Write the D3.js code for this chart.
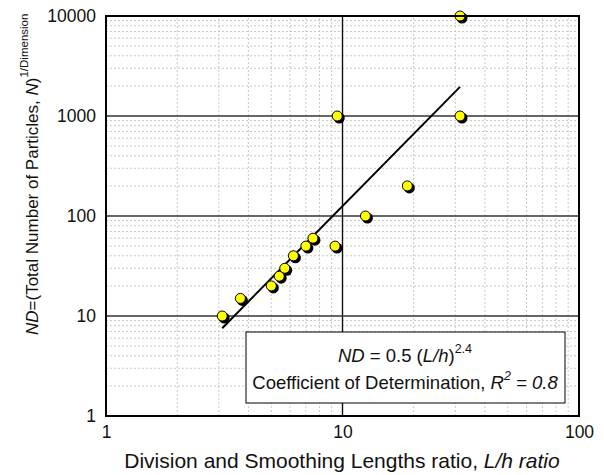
<!DOCTYPE html>
<html>
<head>
<meta charset="utf-8">
<script src="https://cdn.jsdelivr.net/npm/d3@7/dist/d3.min.js"></script>
<style>
  html, body { margin: 0; padding: 0; background: #fff; }
  svg { display: block; font-family: Arial, "Liberation Sans", sans-serif; }
</style>
</head>
<body>
<svg id="chart" width="604" height="475"></svg>
<script>
// Observed ratios L/h and corresponding ND values
const ratioLh = [3.1, 3.7, 5.0, 5.4, 5.7, 6.2, 7.0, 7.5, 9.3, 9.5, 12.5, 18.8, 31.4, 31.4];
const ndValues = [10, 15, 20, 25, 30, 40, 50, 60, 50, 1000, 100, 200, 1000, 10000];

// Power-law fit ND = a (L/h)^b
const fitCoef = 0.5;
const fitExp = 2.4;
const rSquared = 0.8;

const xTicks = [1, 10, 100];
const yTicks = [1, 10, 100, 1000, 10000];

const svg = d3.select("#chart");
const margin = { left: 106, right: 25, top: 16, bottom: 59 };
const W = 604, H = 475;
const x = d3.scaleLog().domain([1, 100]).range([margin.left, W - margin.right]);
const y = d3.scaleLog().domain([1, 10000]).range([H - margin.bottom, margin.top]);

const [x0, x1] = x.range();
const [y0, y1] = y.range();

// minor grid (2..9 within each decade)
const minorX = [], minorY = [];
for (let d = 1; d < 100; d *= 10) for (let k = 2; k <= 9; k++) minorX.push(d * k);
for (let d = 1; d < 10000; d *= 10) for (let k = 2; k <= 9; k++) minorY.push(d * k);

const grid = svg.append("g");
grid.selectAll("line.mx").data(minorX).join("line")
  .attr("x1", d => x(d)).attr("x2", d => x(d)).attr("y1", y0).attr("y2", y1)
  .attr("stroke", "#c8c8c8").attr("stroke-width", 1).attr("stroke-dasharray", "2,2");
grid.selectAll("line.my").data(minorY).join("line")
  .attr("y1", d => y(d)).attr("y2", d => y(d)).attr("x1", x0).attr("x2", x1)
  .attr("stroke", "#c8c8c8").attr("stroke-width", 1).attr("stroke-dasharray", "2,2");

// major grid at decades
grid.selectAll("line.Mx").data(xTicks.slice(1, -1)).join("line")
  .attr("x1", d => x(d)).attr("x2", d => x(d)).attr("y1", y0).attr("y2", y1)
  .attr("stroke", "#111").attr("stroke-width", 1.4);
grid.selectAll("line.My").data(yTicks.slice(1, -1)).join("line")
  .attr("y1", d => y(d)).attr("y2", d => y(d)).attr("x1", x0).attr("x2", x1)
  .attr("stroke", "#333").attr("stroke-width", 1.5);

// axes (labels only)
const fmt = d => String(d);
const xAxis = svg.append("g").attr("transform", `translate(0,${y0})`)
  .call(d3.axisBottom(x).tickValues(xTicks).tickFormat(fmt).tickSize(0).tickPadding(10));
const yAxis = svg.append("g").attr("transform", `translate(${x0},0)`)
  .call(d3.axisLeft(y).tickValues(yTicks).tickFormat(fmt).tickSize(0).tickPadding(10));
[xAxis, yAxis].forEach(a => {
  a.select(".domain").remove();
  a.selectAll("text").attr("font-size", 17.5).attr("fill", "#111")
    .attr("font-family", "Arial, 'Liberation Sans', sans-serif");
});

// fit line across the data range
const fitX = d3.extent(ratioLh);
const line = d3.line().x(d => x(d)).y(d => y(fitCoef * Math.pow(d, fitExp)));
svg.append("path").datum(fitX).attr("d", line)
  .attr("fill", "none").attr("stroke", "#000").attr("stroke-width", 2);

// data markers with drop shadow
const pts = ratioLh.map((v, i) => ({ x: v, y: ndValues[i] }));
svg.append("g").selectAll("circle").data(pts).join("circle")
  .attr("cx", d => x(d.x) + 2).attr("cy", d => y(d.y) + 2).attr("r", 5.5)
  .attr("fill", "#000");
svg.append("g").selectAll("circle").data(pts).join("circle")
  .attr("cx", d => x(d.x)).attr("cy", d => y(d.y)).attr("r", 5)
  .attr("fill", "#ffff00").attr("stroke", "#000").attr("stroke-width", 1);

// plot frame
svg.append("rect").attr("x", x0).attr("y", y1).attr("width", x1 - x0).attr("height", y0 - y1)
  .attr("fill", "none").attr("stroke", "#000").attr("stroke-width", 2);

// equation box
const box = svg.append("g");
box.append("rect").attr("x", 246).attr("y", 332).attr("width", 319).attr("height", 71)
  .attr("fill", "#fff").attr("stroke", "#000").attr("stroke-width", 1);
const eq = box.append("text").attr("x", 405).attr("y", 362).attr("text-anchor", "middle")
  .attr("font-size", 18.5).attr("fill", "#111");
eq.append("tspan").attr("font-style", "italic").text("ND");
eq.append("tspan").text(` = ${fitCoef} (`);
eq.append("tspan").attr("font-style", "italic").text("L/h");
eq.append("tspan").text(")");
eq.append("tspan").attr("font-size", 12.5).attr("dy", -9).text(fitExp);
const r2 = box.append("text").attr("x", 405).attr("y", 389).attr("text-anchor", "middle")
  .attr("font-size", 18.5).attr("fill", "#111");
r2.append("tspan").text("Coefficient of Determination, ");
r2.append("tspan").attr("font-style", "italic").text("R");
r2.append("tspan").attr("font-style", "italic").attr("font-size", 12.5).attr("dy", -9).text("2");
r2.append("tspan").attr("font-style", "italic").attr("dy", 9).text(` = ${rSquared}`);

// axis titles
const xt = svg.append("text").attr("x", 342).attr("y", 468).attr("text-anchor", "middle")
  .attr("font-size", 21).attr("fill", "#111");
xt.append("tspan").text("Division and Smoothing Lengths ratio, ");
xt.append("tspan").attr("font-style", "italic").text("L/h ratio");

const yt = svg.append("text").attr("transform", "translate(38,335) rotate(-90)")
  .attr("text-anchor", "start").attr("font-size", 17).attr("fill", "#111");
yt.append("tspan").attr("font-style", "italic").text("ND");
yt.append("tspan").text("=(Total Number of Particles, ");
yt.append("tspan").attr("font-style", "italic").text("N");
yt.append("tspan").text(")");
yt.append("tspan").attr("font-size", 11.5).attr("dy", -10).text("1/Dimension");
</script>
</body>
</html>
